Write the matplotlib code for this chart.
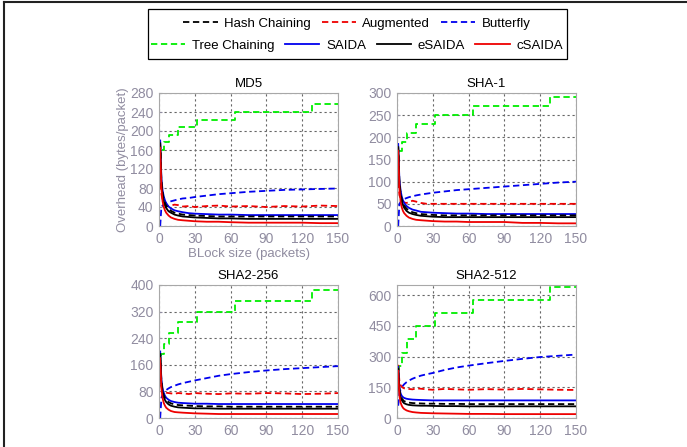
import numpy as np
import matplotlib
matplotlib.use('Agg')
import matplotlib.pyplot as plt
from matplotlib.lines import Line2D
from matplotlib.patches import Rectangle

plt.rcParams['font.family'] = ['Liberation Sans', 'DejaVu Sans']

# block sizes (packets) at which the curves were read
xs = [1, 2, 3, 4, 5, 6, 8, 10, 13, 16, 20, 25, 30, 40, 50, 60, 75, 90, 105, 120, 135, 150]
# tree chaining steps
tree_x = [1, 2, 4, 8, 16, 32, 64, 128, 150]

titles = ['MD5', 'SHA-1', 'SHA2-256', 'SHA2-512']
ylims = [280, 300, 400, 650]
yticks = [[0, 40, 80, 120, 160, 200, 240, 280],
          [0, 50, 100, 150, 200, 250, 300],
          [0, 80, 160, 240, 320, 400],
          [0, 150, 300, 450, 600]]
xticks = [0, 30, 60, 90, 120, 150]

tree_md5 = [144, 160, 176, 192, 208, 224, 240, 256, 256]
tree_sha1 = [150, 170, 190, 210, 230, 250, 270, 290, 290]
tree_sha256 = [160, 192, 224, 256, 288, 320, 352, 384, 384]
tree_sha512 = [192, 256, 320, 384, 448, 512, 576, 640, 640]

butterfly_md5 = [0, 40, 43, 45, 47, 48, 50, 52, 54, 56, 58, 59, 61, 64, 67, 69, 72, 74, 76, 77, 78, 79]
butterfly_sha1 = [0, 50, 54, 57, 59, 61, 63, 65, 67, 69, 71, 73, 75, 78, 81, 83, 86, 89, 92, 95, 98, 100]
butterfly_sha256 = [0, 60, 70, 76, 80, 84, 89, 93, 97, 101, 105, 109, 113, 120, 127, 132, 138, 143, 147, 150, 153, 156]
butterfly_sha512 = [60, 120, 140, 150, 158, 165, 175, 183, 192, 199, 207, 214, 220, 235, 247, 256, 268, 279, 289, 298, 304, 310]

aug_md5 = [90, 68, 55, 50, 47, 44, 42, 43, 45, 44, 41, 42, 40, 42, 43, 41, 42, 40, 42, 41, 43, 42]
aug_sha1 = [100, 70, 62, 58, 55, 53, 52, 54, 57, 55, 52, 50, 50, 50, 50, 50, 50, 50, 50, 50, 50, 50]
aug_sha256 = [130, 95, 85, 80, 78, 76, 75, 74, 73, 75, 74, 72, 75, 73, 72, 74, 73, 75, 74, 72, 73, 75]
aug_sha512 = [260, 180, 160, 152, 148, 145, 143, 142, 140, 145, 143, 140, 138, 142, 140, 138, 141, 139, 142, 140, 138, 137]

hash_md5 = [176, 95, 70, 56, 48, 43, 36, 32, 28, 26, 24, 23, 22, 21, 20, 20, 20, 20, 20, 20, 20, 20]
hash_sha1 = [180, 100, 74, 60, 52, 46, 39, 35, 31, 29, 27, 26, 25, 24, 24, 24, 24, 24, 24, 24, 24, 24]
hash_sha256 = [195, 110, 82, 68, 60, 54, 48, 44, 41, 39, 38, 37, 36, 35, 35, 34, 34, 34, 34, 34, 34, 34]
hash_sha512 = [245, 140, 110, 95, 88, 82, 78, 75, 73, 72, 71, 70, 70, 69, 69, 68, 68, 68, 68, 68, 68, 68]

saida_md5 = [180, 100, 75, 62, 54, 48, 41, 37, 33, 31, 29, 27, 26, 25, 24, 24, 23, 23, 23, 23, 23, 23]
saida_sha1 = [185, 105, 80, 66, 58, 52, 45, 41, 37, 35, 32, 31, 30, 29, 28, 28, 27, 27, 27, 27, 27, 27]
saida_sha256 = [200, 115, 88, 75, 67, 61, 55, 51, 48, 46, 45, 44, 43, 43, 42, 42, 42, 42, 42, 42, 42, 42]
saida_sha512 = [250, 150, 120, 108, 102, 98, 94, 92, 90, 89, 88, 87, 86, 86, 86, 86, 86, 86, 86, 86, 86, 86]

esaida_md5 = [172, 90, 64, 51, 43, 38, 31, 28, 24, 22, 20, 19, 18, 17, 16, 16, 15, 15, 15, 15, 15, 15]
esaida_sha1 = [176, 95, 68, 55, 47, 41, 34, 30, 27, 25, 23, 22, 21, 20, 20, 20, 20, 20, 20, 20, 20, 20]
esaida_sha256 = [190, 105, 76, 62, 54, 48, 41, 37, 34, 32, 31, 30, 29, 29, 28, 28, 28, 28, 28, 28, 28, 28]
esaida_sha512 = [240, 130, 100, 87, 78, 72, 67, 64, 62, 61, 60, 60, 59, 58, 58, 57, 57, 57, 57, 57, 57, 57]

csaida_md5 = [165, 80, 52, 40, 33, 28, 22, 18, 15, 13, 12, 11, 10, 9, 9, 8, 7, 7, 7, 7, 6, 6]
csaida_sha1 = [170, 85, 55, 42, 34, 29, 23, 19, 16, 14, 13, 12, 11, 10, 10, 9, 9, 9, 7, 7, 6, 6]
csaida_sha256 = [180, 90, 60, 45, 37, 31, 25, 21, 18, 17, 16, 15, 14, 13, 12, 12, 12, 12, 12, 12, 12, 12]
csaida_sha512 = [230, 110, 75, 60, 50, 44, 37, 33, 29, 27, 25, 24, 23, 22, 21, 20, 20, 19, 19, 19, 19, 19]

panels = [
    (tree_md5, butterfly_md5, aug_md5, hash_md5, saida_md5, esaida_md5, csaida_md5),
    (tree_sha1, butterfly_sha1, aug_sha1, hash_sha1, saida_sha1, esaida_sha1, csaida_sha1),
    (tree_sha256, butterfly_sha256, aug_sha256, hash_sha256, saida_sha256, esaida_sha256, csaida_sha256),
    (tree_sha512, butterfly_sha512, aug_sha512, hash_sha512, saida_sha512, esaida_sha512, csaida_sha512),
]

W, H = 687, 447
fig = plt.figure(figsize=(W / 100, H / 100), dpi=100)

tick_col = '#908ca0'
lw = 1.3
dash = (0, (3.5, 2))

# axes boxes in pixels: left, top, right, bottom
boxes = [(159, 93, 338, 226), (397, 93, 576, 226),
         (159, 285, 338, 418), (397, 285, 576, 418)]

for i, (box, data) in enumerate(zip(boxes, panels)):
    l, t, r, b = box
    ax = fig.add_axes([l / W, 1 - b / H, (r - l) / W, (b - t) / H])
    tree, bfly, aug, hsh, saida, esaida, csaida = data
    ax.step(tree_x, tree, where='post', color='#00ee00', ls=dash, lw=lw)
    ax.plot(xs, bfly, color='#0000ee', ls=dash, lw=lw)
    ax.plot(xs, aug, color='#ee0000', ls=dash, lw=lw)
    ax.plot(xs, saida, color='#0000ee', lw=lw)
    ax.plot(xs, esaida, color='black', lw=lw)
    ax.plot(xs, hsh, color='black', ls=dash, lw=lw)
    ax.plot(xs, csaida, color='#ee0000', lw=lw)
    ax.set_xlim(0, 150)
    ax.set_ylim(0, ylims[i])
    ax.set_xticks(xticks)
    ax.set_yticks(yticks[i])
    ax.grid(True, color='#666666', ls=(0, (2, 2.5)), lw=0.8)
    ax.tick_params(direction='in', length=2, labelsize=10, colors=tick_col, pad=4)
    for s in ax.spines.values():
        s.set_color('#a8a8a8')
    ax.set_title(titles[i], fontsize=9.5, pad=4)
    if i == 0:
        ax.set_ylabel('Overhead (bytes/packet)', fontsize=9.5, color=tick_col, labelpad=1)
        ax.set_xlabel('BLock size (packets)', fontsize=9.5, color=tick_col, labelpad=2)

# legend, MATLAB style: 3 entries centred on the first row, 4 on the second
row1 = [Line2D([], [], color='black', ls=dash, lw=lw),
        Line2D([], [], color='#ee0000', ls=dash, lw=lw),
        Line2D([], [], color='#0000ee', ls=dash, lw=lw)]
row2 = [Line2D([], [], color='#00ee00', ls=dash, lw=lw),
        Line2D([], [], color='#0000ee', lw=lw),
        Line2D([], [], color='black', lw=lw),
        Line2D([], [], color='#ee0000', lw=lw)]
leg_kw = dict(frameon=False, fontsize=9.5, handlelength=2.6, handletextpad=0.5,
              columnspacing=0.8, borderaxespad=0, borderpad=0)
fig.legend(row1, ['Hash Chaining', 'Augmented', 'Butterfly'], ncol=3,
           loc='center', bbox_to_anchor=(357 / W, 1 - 24 / H), **leg_kw)
fig.legend(row2, ['Tree Chaining', 'SAIDA', 'eSAIDA', 'cSAIDA'], ncol=4,
           loc='center', bbox_to_anchor=(357 / W, 1 - 46 / H), **leg_kw)
fig.add_artist(Rectangle((148 / W, 1 - 59 / H), (567 - 148) / W, 50 / H,
                         transform=fig.transFigure, fill=False, ec='black', lw=0.9))

# screenshot border on the top and left
fig.add_artist(Line2D([4 / W, 4 / W], [0, 1 - 2 / H], transform=fig.transFigure, color='#222222', lw=1.5))
fig.add_artist(Line2D([4 / W, 1], [1 - 2 / H, 1 - 2 / H], transform=fig.transFigure, color='#222222', lw=1.5))

fig.savefig('out.png', dpi=100)
